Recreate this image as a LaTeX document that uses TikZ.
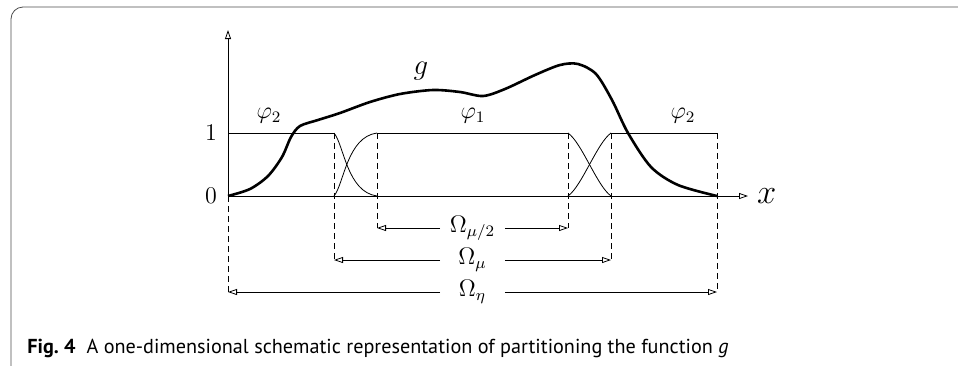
\documentclass[tikz,border=0pt]{standalone}
\usepackage{fontspec}
\newfontfamily\capfont{PT Sans}
\usetikzlibrary{arrows.meta,positioning}
\tikzset{schem/.style={
  x=0.5pt,y=-0.5pt,
  >={Triangle[open,length=4.5pt,width=3pt]},line join=round
}}
\tikzset{guide/.style={dashed,thin,dash pattern=on 3pt off 2pt},
  dimlab/.style={inner sep=0pt,minimum width=32pt,minimum height=8pt},
  fn/.style={line width=1.3pt}}

\begin{document}
\begin{tikzpicture}[schem]
  \useasboundingbox (0,0) rectangle (958,365);
  \draw[gray!60!black,rounded corners=6pt] (958,7) -- (11,7) -- (11,366);
  \coordinate (O) at (228,196);
  \coordinate (I) at (228,133);
  \coordinate (a1) at (334,133);
  \coordinate (b1) at (377,133);
  \coordinate (a2) at (568,133);
  \coordinate (b2) at (611,133);
  \coordinate (E) at (717,133);
  \coordinate (a1z) at (334,196);
  \coordinate (b1z) at (377,196);
  \coordinate (a2z) at (568,196);
  \coordinate (b2z) at (611,196);
  \coordinate (Ez) at (717,196);
  \draw[->] (O)--(228,30);
  \draw[->] (O)--(748,196) node[right=1pt,font=\fontsize{19}{22}\selectfont]{$x$};
  \draw (I)--(a1) (b1)--(a2) (b2)--(E);
  \draw (a1) .. controls (344,145) and (347,192) .. (b1z);
  \draw (a1z) .. controls (344,184) and (347,137) .. (b1);
  \draw (a2) .. controls (582,143) and (597,186) .. (b2z);
  \draw (a2z) .. controls (582,186) and (597,143) .. (b2);
  \node[font=\large] (one) at (211,133) {$1$};
  \node[font=\large] (zero) at (211,196) {$0$};
  \node[font=\large] (phiL) at (269,116) {$\varphi_2$};
  \node[font=\large] (phiM) at (473,116) {$\varphi_1$};
  \node[font=\large] (phiR) at (683,116) {$\varphi_2$};
  \draw[fn] plot[smooth,tension=0.5] coordinates {(228,196) (250,189) (268,176)
    (282,157) (291,137) (300,126) (318,120) (340,113) (370,102) (400,94) (433,90)
    (460,92) (483,96) (505,89) (535,75) (560,65) (578,64) (596,74) (612,100)
    (628,133) (651,167) (678,185) (717,196)};
  \node[font=\Large] (g) at (421,71) {$g$};
  \coordinate (h1) at (377,228);
  \coordinate (h2) at (568,228);
  \coordinate (m1) at (334,260);
  \coordinate (m2) at (611,260);
  \coordinate (e1) at (228,292);
  \coordinate (e2) at (717,292);
  \draw[guide] (b1)--(h1) (a2)--(h2) (a1)--(m1) (b2)--(m2) (O)--(e1) (E)--(e2);
  \node[dimlab,font=\large] (half) at (472.5,228) {$\Omega_{\mu/2}$};
  \node[dimlab,font=\large] (mu) at (472.5,260) {$\Omega_{\mu}$};
  \node[dimlab,font=\large] (eta) at (472.5,292) {$\Omega_{\eta}$};
  \draw[->] (half)--(h1);
  \draw[->] (half)--(h2);
  \draw[->] (mu)--(m1);
  \draw[->] (mu)--(m2);
  \draw[->] (eta)--(e1);
  \draw[->] (eta)--(e2);
  \node[anchor=base west,inner sep=0pt,font=\capfont\fontsize{10.1}{12}\selectfont]
    (cap) at (27,353) {\textbf{Fig.~4}\hspace{0.55em}A one-dimensional schematic
    representation of partitioning the function \textit{g}};
\end{tikzpicture}
\end{document}
